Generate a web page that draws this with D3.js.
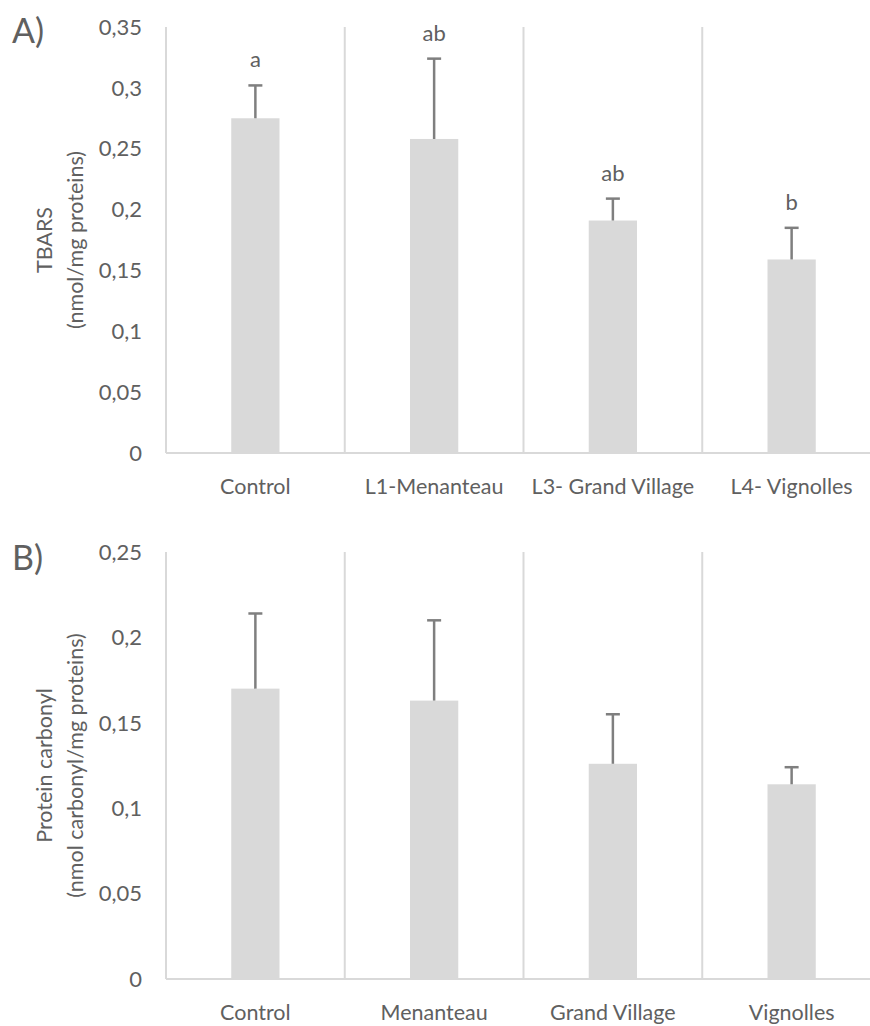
<!DOCTYPE html>
<html lang="en">
<head>
  <meta charset="UTF-8">
  <title>TBARS and protein carbonyl</title>
  <script src="https://d3js.org/d3.v7.min.js"></script>
  <style>
    body { margin: 0; background: #fff; }
    svg text { font-family: Lato, "Open Sans", sans-serif; fill: #606060; }
    .tick-label { font-size: 22px; }
    .cat-label { font-size: 21.5px; }
    .axis-title { font-size: 21.5px; }
    .letter { font-size: 22px; }
    .panel-tag { font-size: 34px; }
  </style>
</head>
<body>
  <div id="chart"></div>
  <script>
    // Panel A - TBARS
    const categoriesA = ["Control", "L1-Menanteau", "L3- Grand Village", "L4- Vignolles"];
    const tbarsMean = [0.275, 0.258, 0.191, 0.159];
    const tbarsErr = [0.027, 0.066, 0.018, 0.026];
    const tbarsLetters = ["a", "ab", "ab", "b"];
    const ticksA = [0, 0.05, 0.1, 0.15, 0.2, 0.25, 0.3, 0.35];

    // Panel B - protein carbonyl
    const categoriesB = ["Control", "Menanteau", "Grand Village", "Vignolles"];
    const carbonylMean = [0.170, 0.163, 0.126, 0.114];
    const carbonylErr = [0.044, 0.047, 0.029, 0.010];
    const ticksB = [0, 0.05, 0.1, 0.15, 0.2, 0.25];

    const width = 870;
    const height = 1026;
    const fmt = d3.formatLocale({ decimal: ",", thousands: ".", grouping: [3], currency: ["", "€"] }).format("~g");

    const svg = d3.select("#chart")
      .append("svg")
      .attr("width", width)
      .attr("height", height);

    function drawPanel(opts) {
      const { cats, means, errs, letters, ticks, top, bottom, tag, tagY, titles } = opts;
      const left = 166, right = 881;

      const x = d3.scaleBand().domain(cats).range([left, right]).padding(0);
      const y = d3.scaleLinear().domain([0, d3.max(ticks)]).range([bottom, top]);
      const barW = x.bandwidth() * 0.27;

      const g = svg.append("g");

      // vertical category separators
      const seps = cats.map(c => x(c)).concat([right]);
      g.selectAll(".sep")
        .data(seps)
        .enter()
        .append("line")
        .attr("x1", d => d).attr("x2", d => d)
        .attr("y1", y(d3.max(ticks))).attr("y2", bottom)
        .attr("stroke", "#d9d9d9")
        .attr("stroke-width", 2);

      // bars
      g.selectAll(".bar")
        .data(cats)
        .enter()
        .append("rect")
        .attr("x", d => x(d) + x.bandwidth() / 2 - barW / 2)
        .attr("y", (d, i) => y(means[i]))
        .attr("width", barW)
        .attr("height", (d, i) => bottom - y(means[i]))
        .attr("fill", "#d9d9d9");

      // baseline
      g.append("line")
        .attr("x1", left).attr("x2", right)
        .attr("y1", bottom).attr("y2", bottom)
        .attr("stroke", "#d9d9d9")
        .attr("stroke-width", 2);

      // error bars (upper only)
      const eb = g.selectAll(".err")
        .data(cats)
        .enter()
        .append("g")
        .attr("transform", d => `translate(${x(d) + x.bandwidth() / 2},0)`);
      eb.append("line")
        .attr("x1", 0).attr("x2", 0)
        .attr("y1", (d, i) => y(means[i]))
        .attr("y2", (d, i) => y(means[i] + errs[i]))
        .attr("stroke", "#7f7f7f")
        .attr("stroke-width", 2.5);
      eb.append("line")
        .attr("x1", -7).attr("x2", 7)
        .attr("y1", (d, i) => y(means[i] + errs[i]))
        .attr("y2", (d, i) => y(means[i] + errs[i]))
        .attr("stroke", "#7f7f7f")
        .attr("stroke-width", 2.5);

      // significance letters
      if (letters) {
        eb.append("text")
          .attr("class", "letter")
          .attr("text-anchor", "middle")
          .attr("y", (d, i) => y(means[i] + errs[i]) - 18)
          .text((d, i) => letters[i]);
      }

      // y tick labels
      g.selectAll(".tick-label")
        .data(ticks)
        .enter()
        .append("text")
        .attr("class", "tick-label")
        .attr("x", left - 24)
        .attr("y", d => y(d))
        .attr("dy", "0.35em")
        .attr("text-anchor", "end")
        .text(d => fmt(d));

      // category labels
      g.selectAll(".cat-label")
        .data(cats)
        .enter()
        .append("text")
        .attr("class", "cat-label")
        .attr("x", d => x(d) + x.bandwidth() / 2)
        .attr("y", bottom + 41)
        .attr("text-anchor", "middle")
        .text(d => d);

      // axis title, two lines rotated
      const midY = (top + bottom) / 2;
      const t = g.append("text")
        .attr("class", "axis-title")
        .attr("text-anchor", "middle")
        .attr("transform", `translate(52,${midY}) rotate(-90)`);
      t.append("tspan").attr("x", 0).attr("dy", 0).text(titles[0]);
      t.append("tspan").attr("x", 0).attr("dy", 31).text(titles[1]);

      // panel tag
      g.append("text")
        .attr("class", "panel-tag")
        .attr("x", 12)
        .attr("y", tagY)
        .text(tag);
    }

    drawPanel({
      cats: categoriesA, means: tbarsMean, errs: tbarsErr, letters: tbarsLetters,
      ticks: ticksA, top: 27, bottom: 453, tag: "A)", tagY: 43,
      titles: ["TBARS", "(nmol/mg proteins)"]
    });

    drawPanel({
      cats: categoriesB, means: carbonylMean, errs: carbonylErr, letters: null,
      ticks: ticksB, top: 552, bottom: 979, tag: "B)", tagY: 570,
      titles: ["Protein carbonyl", "(nmol carbonyl/mg proteins)"]
    });
  </script>
</body>
</html>
